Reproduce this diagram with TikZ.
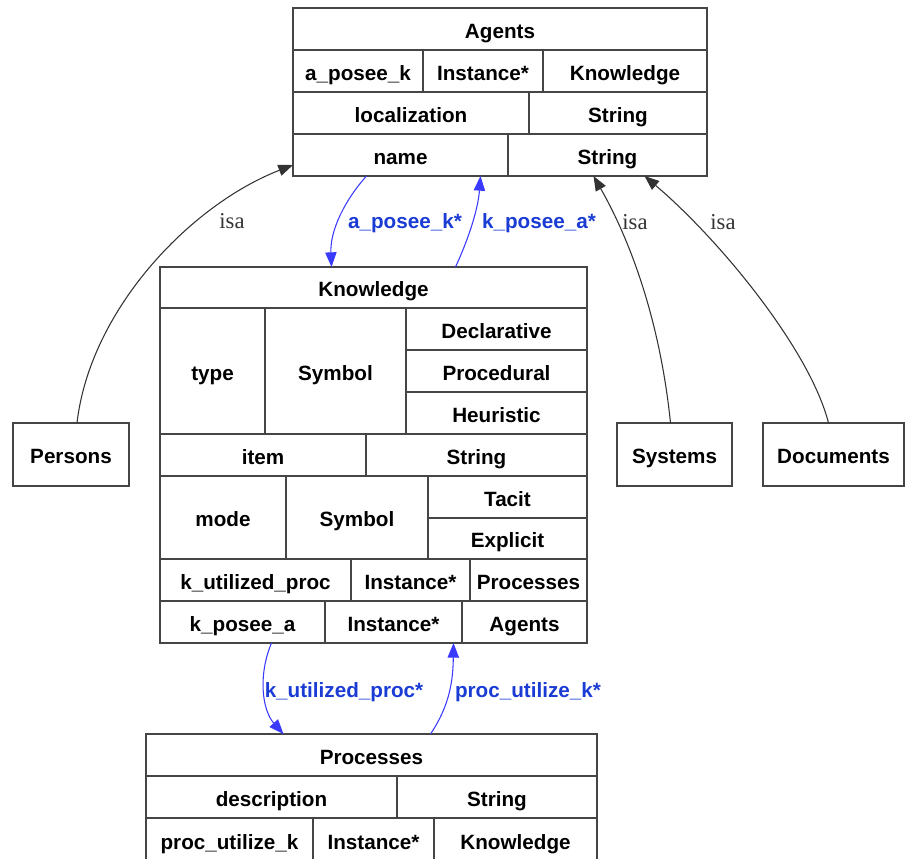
\documentclass[tikz,border=0pt]{standalone}
\usepackage{fontspec}
\setmainfont{Liberation Sans}
\newfontfamily\isafont{Liberation Serif}
\usepackage{tikz}
\usetikzlibrary{calc,arrows.meta}
\definecolor{cellLine}{HTML}{454545}
\definecolor{isaGrey}{HTML}{333333}
\definecolor{relLine}{HTML}{3A3AFF}
\definecolor{relText}{HTML}{1A3CD4}
\tikzset{
  cellbox/.style={rectangle, draw=cellLine, fill=white, line width=1.1pt, inner sep=1pt, outer sep=0pt, align=center, text height=15pt, text depth=1.5pt, font=\fontsize{15.5}{17}\selectfont\bfseries},
  isaarrow/.style={-{Triangle[length=11pt,width=8.5pt]}, line width=0.8pt, draw=isaGrey},
  relarrow/.style={-{Triangle[length=11pt,width=8.5pt]}, line width=0.8pt, draw=relLine},
  isalabel/.style={font=\isafont\fontsize{17}{19}\selectfont, text=isaGrey, inner sep=1pt},
  rellabel/.style={font=\fontsize{15.5}{17}\selectfont\bfseries, text=relText, inner sep=1pt},
}
% one table cell: name, x1, y1, x2, y2 (pixels, y downwards), text
\newcommand{\tcell}[6]{%
  \node[cellbox, minimum width={(#4-#2)*0.75pt}, minimum height={(#5-#3)*0.75pt}] (#1) at ({(#2+#4)/2},{(#3+#5)/2}) {#6};}

\begin{document}
\begin{tikzpicture}[x=0.75pt,y=-0.75pt]
  \useasboundingbox (0,0) rectangle (906,858);
  \clip (0,0) rectangle (906,858);

  % Agents
  \tcell{agTitle}{293}{8}{707}{50}{Agents}
  \tcell{agPosee}{293}{50}{423}{92}{a\_posee\_k}
  \tcell{agPoseeType}{423}{50}{543}{92}{Instance*}
  \tcell{agPoseeCls}{543}{50}{707}{92}{Knowledge}
  \tcell{agLoc}{293}{92}{529}{134}{localization}
  \tcell{agLocType}{529}{92}{707}{134}{String}
  \tcell{agName}{293}{134}{508}{176}{name}
  \tcell{agNameType}{508}{134}{707}{176}{String}

  % Knowledge
  \tcell{knTitle}{160}{267}{587}{308}{Knowledge}
  \tcell{knType}{160}{308}{265}{434}{type}
  \tcell{knTypeSym}{265}{308}{406}{434}{Symbol}
  \tcell{knDecl}{406}{308}{587}{350}{Declarative}
  \tcell{knProc}{406}{350}{587}{392}{Procedural}
  \tcell{knHeur}{406}{392}{587}{434}{Heuristic}
  \tcell{knItem}{160}{434}{366}{476}{item}
  \tcell{knItemType}{366}{434}{587}{476}{String}
  \tcell{knMode}{160}{476}{286}{559}{mode}
  \tcell{knModeSym}{286}{476}{428}{559}{Symbol}
  \tcell{knTacit}{428}{476}{587}{518}{Tacit}
  \tcell{knExpl}{428}{518}{587}{559}{Explicit}
  \tcell{knUtil}{160}{559}{351}{601}{k\_utilized\_proc}
  \tcell{knUtilType}{351}{559}{470}{601}{Instance*}
  \tcell{knUtilCls}{470}{559}{587}{601}{Processes}
  \tcell{knPosee}{160}{601}{325}{643}{k\_posee\_a}
  \tcell{knPoseeType}{325}{601}{462}{643}{Instance*}
  \tcell{knPoseeCls}{462}{601}{587}{643}{Agents}

  % Processes
  \tcell{prTitle}{146}{734}{597}{776}{Processes}
  \tcell{prDesc}{146}{776}{397}{818}{description}
  \tcell{prDescType}{397}{776}{597}{818}{String}
  \tcell{prUtil}{146}{818}{313}{862}{proc\_utilize\_k}
  \tcell{prUtilType}{313}{818}{434}{862}{Instance*}
  \tcell{prUtilCls}{434}{818}{597}{862}{Knowledge}

  % subclasses
  \tcell{persons}{13}{423}{129}{486}{Persons}
  \tcell{systems}{617}{423}{732}{486}{Systems}
  \tcell{documents}{763}{423}{904}{486}{Documents}

  \draw[isaarrow] ($(persons.north)+(6,0)$) .. controls (90,310) and (190,205) .. ($(agName.west)+(0,10)$);
  \draw[isaarrow] ($(systems.north)+(-4,0)$) .. controls (660,320) and (630,240) .. ($(agNameType.south)+(-14,0)$);
  \draw[isaarrow] ($(documents.north)+(-5,0)$) .. controls (810,350) and (720,240) .. ($(agNameType.south)+(37,0)$);
  \node[isalabel] (isaP) at (232,221) {isa};
  \node[isalabel] (isaS) at (635,222) {isa};
  \node[isalabel] (isaD) at (723,222) {isa};

  \draw[relarrow] ($(agName.south)+(-34,0)$) .. controls (345,200) and (330,230) .. ($(knTitle.north)+(-42,0)$);
  \draw[relarrow] ($(knTitle.north)+(82,0)$) .. controls (468,240) and (478,210) .. ($(agName.south)+(80,0)$);
  \draw[relarrow] ($(knPosee.south)+(29,0)$) .. controls (258,675) and (262,710) .. ($(prTitle.north)+(-88,0)$);
  \draw[relarrow] ($(prTitle.north)+(59,0)$) .. controls (450,705) and (453,680) .. ($(knPoseeType.south)+(60,0)$);
  \node[rellabel] (lbAK) at (405,223) {a\_posee\_k*};
  \node[rellabel] (lbKA) at (539,223) {k\_posee\_a*};
  \node[rellabel] (lbKP) at (344,692) {k\_utilized\_proc*};
  \node[rellabel] (lbPK) at (528,692) {proc\_utilize\_k*};
\end{tikzpicture}
\end{document}
